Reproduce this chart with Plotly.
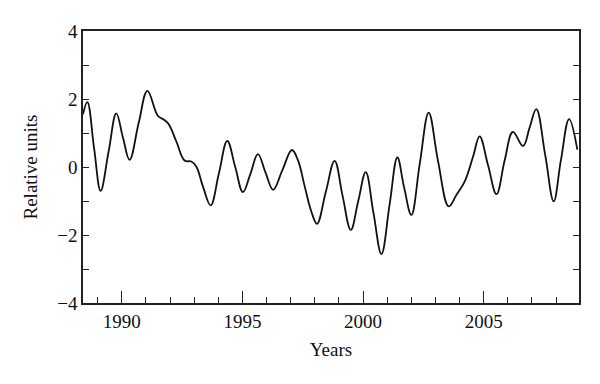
import plotly.graph_objects as go

years = [1988.39, 1988.57, 1988.85, 1989.12, 1989.45, 1989.77, 1990.05, 1990.32, 1990.7, 1991.06,
         1991.5, 1991.77, 1991.95, 1992.26, 1992.6, 1992.88, 1993.09, 1993.36, 1993.68, 1994.02,
         1994.37, 1994.7, 1995.02, 1995.33, 1995.64, 1995.95, 1996.27, 1996.65, 1997.05, 1997.3,
         1997.58, 1997.85, 1998.09, 1998.45, 1998.82, 1999.15, 1999.49, 1999.8, 2000.11, 2000.43,
         2000.76, 2001.1, 2001.42, 2001.7, 2002.0, 2002.35, 2002.72, 2003.1, 2003.55, 2003.87,
         2004.21, 2004.56, 2004.83, 2005.18, 2005.53, 2005.87, 2006.21, 2006.63, 2006.9, 2007.18,
         2007.55, 2007.9, 2008.2, 2008.54, 2008.88]
values = [1.55, 1.91, 0.55, -0.70, 0.45, 1.58, 0.85, 0.21, 1.30, 2.24,
          1.50, 1.38, 1.25, 0.75, 0.19, 0.16, 0.01, -0.57, -1.13, -0.20,
          0.77, 0.00, -0.74, -0.20, 0.38, -0.15, -0.67, -0.10, 0.50, 0.20,
          -0.57, -1.30, -1.67, -0.75, 0.18, -0.85, -1.85, -1.00, -0.15, -1.35,
          -2.56, -1.10, 0.28, -0.60, -1.41, 0.10, 1.60, 0.20, -1.16, -0.82,
          -0.43, 0.31, 0.90, 0.05, -0.80, 0.20, 1.03, 0.62, 1.15, 1.70,
          0.35, -1.01, 0.20, 1.41, 0.51]

x_tick_vals = [1990, 1995, 2000, 2005]
x_tick_text = ["1990", "1995", "2000", "2005"]
x_minor_vals = [1989, 1991, 1992, 1993, 1994, 1996, 1997, 1998, 1999, 2001, 2002, 2003, 2004, 2006, 2007, 2008]
y_tick_vals = [-4, -3, -2, -1, 0, 1, 2, 3, 4]
y_tick_text = ["\u22124", "", "\u22122", "", "0", "", "2", "", "4"]

FONT = "Liberation Serif"
AX = "#222222"

fig = go.Figure()
fig.add_trace(go.Scatter(
    x=years, y=values, mode="lines",
    line=dict(color="#111111", width=1.8, shape="spline", smoothing=1.1),
    showlegend=False, hoverinfo="skip",
))

fig.update_layout(
    width=600, height=384,
    margin=dict(l=83, r=21, t=31, b=81),
    paper_bgcolor="white", plot_bgcolor="white",
    font=dict(family=FONT, size=19, color="#111111"),
    showlegend=False,
    xaxis=dict(
        range=[1988.39, 2008.95],
        tickmode="array", tickvals=x_tick_vals, ticktext=x_tick_text,
        ticks="inside", ticklen=12, tickwidth=1.3, tickcolor=AX,
        minor=dict(tickmode="array", tickvals=x_minor_vals, ticks="inside",
                   ticklen=6, tickwidth=1.3, tickcolor=AX, showgrid=False),
        showline=True, linecolor=AX, linewidth=1.5, mirror=True,
        showgrid=False, zeroline=False,
        tickfont=dict(family=FONT, size=19),
        title=dict(text="Years", font=dict(family=FONT, size=19), standoff=12),
    ),
    yaxis=dict(
        range=[-4, 4],
        tickmode="array", tickvals=y_tick_vals, ticktext=y_tick_text,
        ticks="inside", ticklen=6, tickwidth=1.3, tickcolor=AX,
        showline=True, linecolor=AX, linewidth=1.5, mirror="ticks",
        showgrid=False, zeroline=False,
        tickfont=dict(family=FONT, size=19),
        title=dict(text="Relative units", font=dict(family=FONT, size=19), standoff=15),
    ),
)

fig.write_html("out.html", config={"displayModeBar": False},
               post_script="document.body.style.margin='0';")
